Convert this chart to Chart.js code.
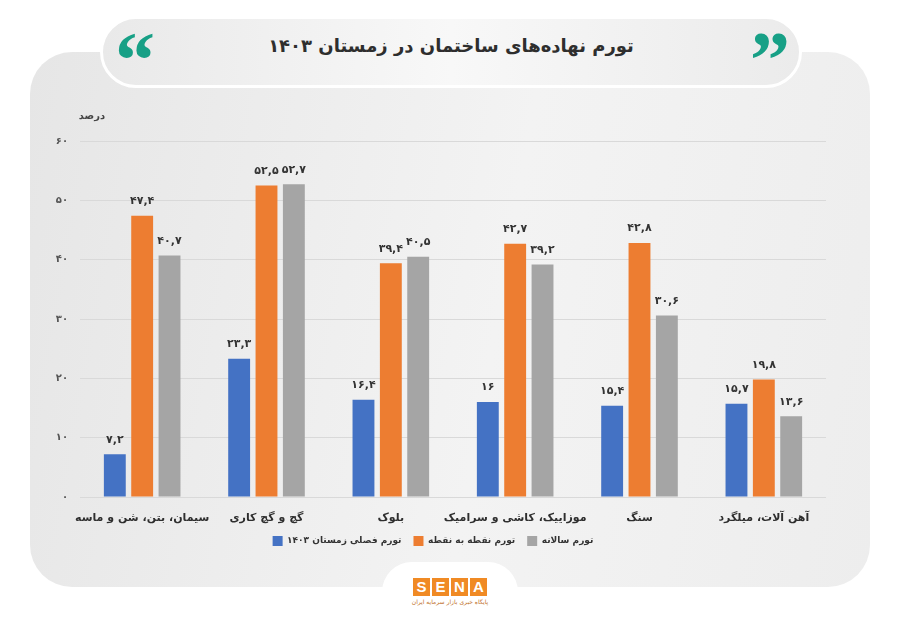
<!DOCTYPE html>
<html lang="fa">
<head>
<meta charset="utf-8">
<script src="https://cdn.jsdelivr.net/npm/chart.js@4.4.1/dist/chart.umd.min.js"></script>
<style>
  html, body { margin: 0; padding: 0; background: #fff; }
  #wrap { position: relative; width: 900px; height: 623px; overflow: hidden; font-family: "DejaVu Sans", "Noto Sans", sans-serif; }
  #panel {
    position: absolute; left: 30px; top: 52px; width: 840px; height: 535px;
    border-radius: 42px;
    background: linear-gradient(100deg, #e6e6e6 0%, #f3f3f3 55%, #ededed 100%);
  }
  #banner {
    position: absolute; left: 100px; top: 16px; width: 696px; height: 66px;
    border-radius: 36px; border: 3px solid #fff;
    background: linear-gradient(90deg, #e9e9e9 0%, #f8f8f8 50%, #ebebeb 100%);
  }
  #title {
    position: absolute; left: 100px; top: 35px; width: 702px; text-align: center;
    direction: rtl; font-weight: bold; font-size: 18px; color: #2e2e2e;
  }
  .quote {
    position: absolute; top: 20px; font-family: "Liberation Serif", serif; font-weight: bold;
    font-size: 80px; line-height: 80px; color: #17a086;
  }
  #tab {
    position: absolute; left: 382px; top: 562px; width: 136px; height: 80px;
    border-radius: 30px; background: #fff;
  }
  #logo { position: absolute; left: 413px; top: 578px; display: flex; gap: 2px; }
  #logo span {
    width: 17px; height: 18px; background: #f08a24; color: #fff; font-weight: bold;
    font-size: 15px; line-height: 18px; text-align: center; font-family: "Liberation Sans", sans-serif;
  }
  #logosub { position: absolute; left: 405px; top: 598px; width: 90px; text-align: center; direction: rtl; font-size: 6px; color: #c0702a; }
  #c { position: absolute; left: 0; top: 0; }
</style>
</head>
<body>
<div id="wrap">
  <div id="panel"></div>
  <div id="banner"></div>
  <div class="quote" style="left:115px;">&#8220;</div>
  <div class="quote" style="left:750px;">&#8221;</div>
  <div id="title">تورم نهاده‌های ساختمان در زمستان ۱۴۰۳</div>
  <div id="tab"></div>
  <div id="logo"><span>S</span><span>E</span><span>N</span><span>A</span></div>
  <div id="logosub">پایگاه خبری بازار سرمایه ایران</div>
  <canvas id="c" width="900" height="623"></canvas>
</div>
<script>
// categories (left to right as shown)
const categories = [
  'سیمان، بتن، شن و ماسه',
  'گچ و گچ کاری',
  'بلوک',
  'موزاییک، کاشی و سرامیک',
  'سنگ',
  'آهن آلات، میلگرد'
];
const seriesNames = ['تورم فصلی زمستان ۱۴۰۳', 'تورم نقطه به نقطه', 'تورم سالانه'];
const seasonal = [7.2, 23.3, 16.4, 16, 15.4, 15.7];
const pointToPoint = [47.4, 52.5, 39.4, 42.7, 42.8, 19.8];
const annual = [40.7, 52.7, 40.5, 39.2, 30.6, 13.6];
const yTicks = [0, 10, 20, 30, 40, 50, 60];
const colors = ['#4472c4', '#ed7d31', '#a5a5a5'];

// latin digits -> persian digits
function toFa(v) {
  return String(v).replace(/[0-9]/g, d => '۰۱۲۳۴۵۶۷۸۹'[d]).replace('.', ',');
}

const FONT = '"DejaVu Sans", "Noto Sans", sans-serif';

// value labels above bars + unit label
const barLabels = {
  id: 'barLabels',
  afterDatasetsDraw(chart) {
    const ctx = chart.ctx;
    ctx.save();
    ctx.fillStyle = '#333';
    ctx.font = 'bold 11px ' + FONT;
    ctx.textAlign = 'center';
    ctx.textBaseline = 'bottom';
    chart.data.datasets.forEach((ds, i) => {
      chart.getDatasetMeta(i).data.forEach((bar, j) => {
        ctx.fillText(toFa(ds.data[j]), bar.x, bar.y - 9);
      });
    });
    ctx.font = 'bold 10px ' + FONT;
    ctx.fillStyle = '#444';
    ctx.textBaseline = 'middle';
    ctx.fillText('درصد', chart.chartArea.left + 12, chart.chartArea.top - 25);
    ctx.restore();
  }
};

new Chart(document.getElementById('c'), {
  type: 'bar',
  data: {
    labels: categories,
    datasets: [
      { label: seriesNames[0], data: seasonal, backgroundColor: colors[0] },
      { label: seriesNames[1], data: pointToPoint, backgroundColor: colors[1] },
      { label: seriesNames[2], data: annual, backgroundColor: colors[2] }
    ]
  },
  options: {
    responsive: false,
    animation: false,
    devicePixelRatio: 1,
    categoryPercentage: 0.66,
    barPercentage: 0.8,
    layout: { padding: { left: 40, right: 74, top: 141, bottom: 67 } },
    plugins: {
      tooltip: { enabled: false },
      legend: {
        position: 'bottom',
        labels: {
          boxWidth: 10, boxHeight: 10, padding: 12,
          color: '#333', font: { family: FONT, size: 9, weight: 'bold' }
        }
      }
    },
    scales: {
      x: {
        afterFit(scale) { scale.height = 27; },
        grid: { display: false },
        border: { display: false },
        ticks: { color: '#2e2e2e', font: { family: FONT, size: 11, weight: 'bold' }, padding: 7, maxRotation: 0, autoSkip: false }
      },
      y: {
        min: 0, max: 60,
        afterFit(scale) { scale.width = 40; },
        afterBuildTicks(scale) { scale.ticks = yTicks.map(v => ({ value: v })); },
        grid: { color: '#d9d9d9', drawTicks: false },
        border: { display: false },
        ticks: { color: '#555', font: { family: FONT, size: 10, weight: 'bold' }, padding: 12, callback: v => toFa(v) }
      }
    }
  },
  plugins: [barLabels]
});
</script>
</body>
</html>
